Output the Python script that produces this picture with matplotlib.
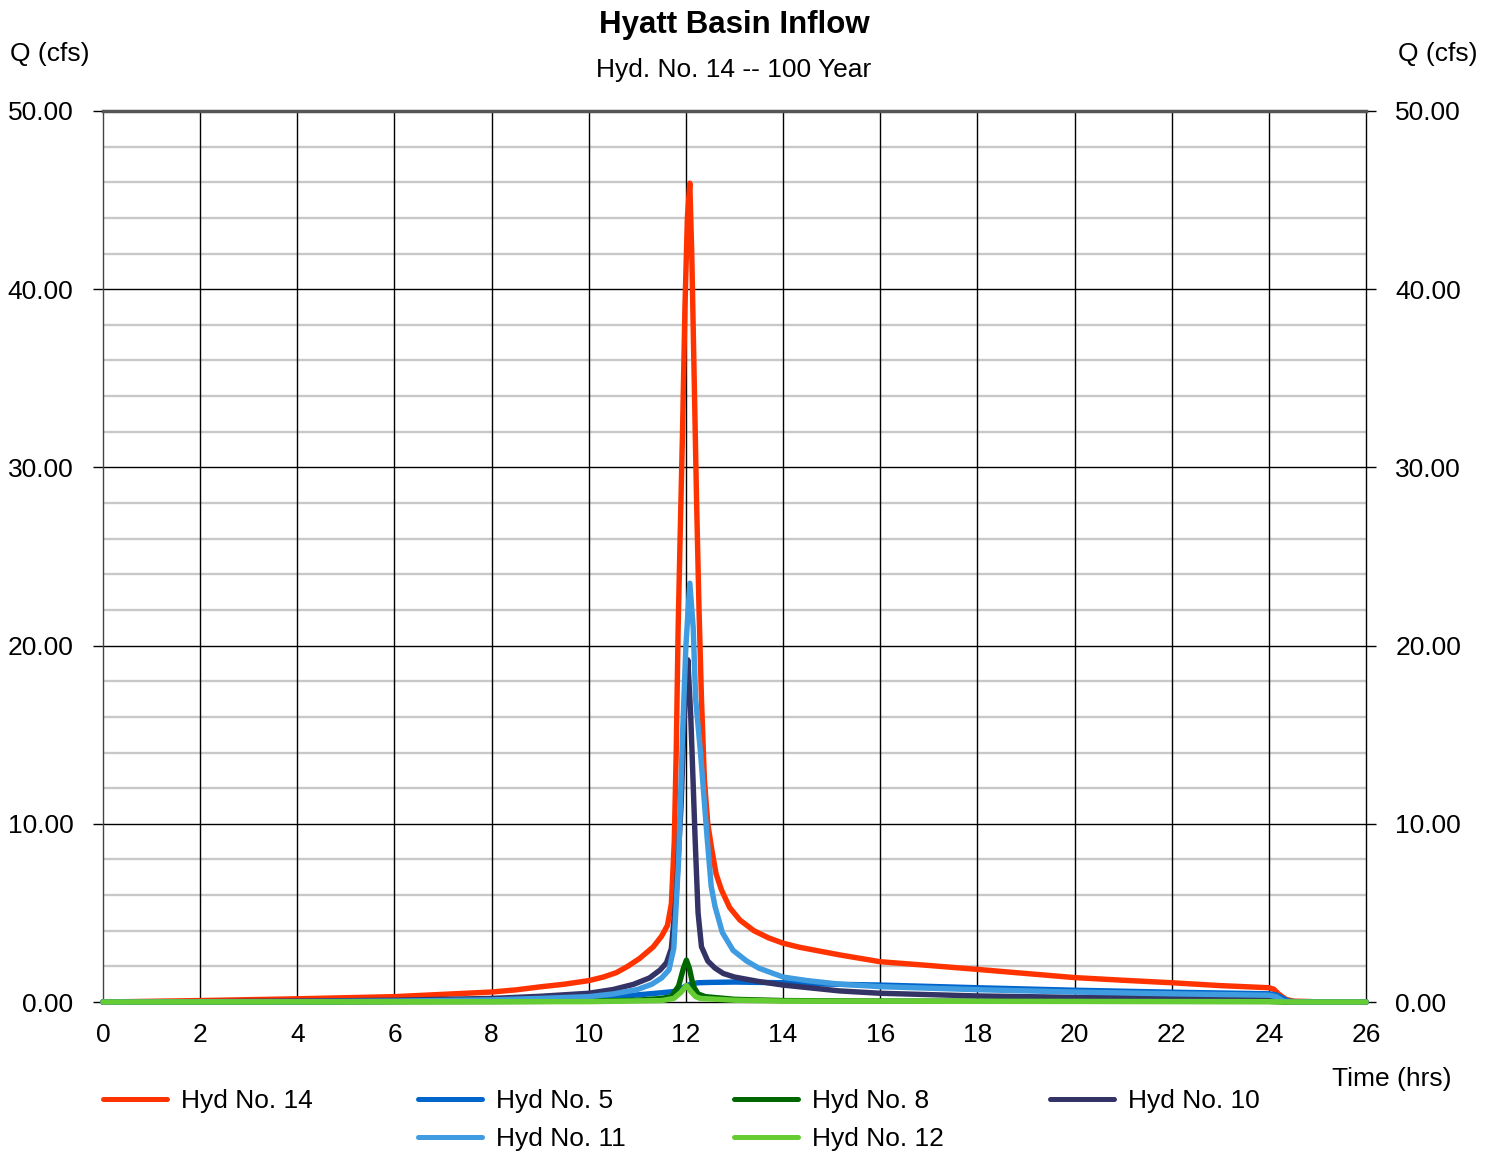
import matplotlib
matplotlib.use("Agg")
import matplotlib.pyplot as plt
from matplotlib.lines import Line2D
import numpy as np

plt.rcParams['font.family'] = ['Liberation Sans', 'DejaVu Sans']

# ---------------- data ----------------
series_names = ["Hyd No. 14", "Hyd No. 5", "Hyd No. 8", "Hyd No. 10", "Hyd No. 11", "Hyd No. 12"]
series_colors = ["#ff3300", "#0066cc", "#006600", "#333366", "#3f9ce0", "#66cc33"]

t14 = [0, 2, 4, 6, 7, 8, 8.5, 9, 9.5, 10, 10.3, 10.57, 10.8, 11.05, 11.33, 11.5, 11.62, 11.7,
       11.76, 11.8, 11.84, 11.88, 11.93, 11.98, 12.03, 12.08, 12.12, 12.17, 12.22, 12.27, 12.32,
       12.38, 12.45, 12.53, 12.62, 12.73, 12.9, 13.11, 13.4, 13.7, 14, 14.34, 15.17, 16, 17, 18,
       19, 20, 21, 22, 23, 24, 24.1, 24.2, 24.35, 24.5, 25, 26]
q14 = [0, 0.08, 0.18, 0.3, 0.43, 0.56, 0.68, 0.85, 1.0, 1.2, 1.4, 1.65, 2.0, 2.45, 3.1, 3.7, 4.3, 5.5,
       9.0, 14.0, 21.0, 26.0, 32.0, 39.0, 44.0, 45.95, 42.0, 35.0, 28.0, 22.0, 17.0,
       12.5, 10.0, 8.6, 7.2, 6.3, 5.3, 4.6, 4.0, 3.6, 3.3, 3.07, 2.64, 2.26, 2.05, 1.83,
       1.6, 1.37, 1.22, 1.08, 0.92, 0.8, 0.72, 0.45, 0.15, 0.05, 0.01, 0]

t5 = [0, 4, 6, 8, 9, 10, 10.5, 11, 11.5, 11.8, 12.0, 12.1, 12.25, 12.5, 13, 14, 15, 16, 18, 20,
      22, 24, 24.15, 24.4, 24.6, 26]
q5 = [0, 0.01, 0.03, 0.08, 0.13, 0.2, 0.28, 0.4, 0.52, 0.6, 0.9, 1.0, 1.08, 1.1, 1.12, 1.08, 1.0,
      0.95, 0.8, 0.66, 0.55, 0.46, 0.4, 0.05, 0, 0]

t8 = [0, 8, 10, 11, 11.5, 11.7, 11.85, 11.95, 12.01, 12.07, 12.15, 12.25, 12.4, 13, 14, 16, 24,
      24.3, 26]
q8 = [0, 0.02, 0.05, 0.1, 0.2, 0.3, 0.9, 1.9, 2.35, 1.9, 0.9, 0.45, 0.3, 0.15, 0.08, 0.05, 0.03,
      0, 0]

t10 = [0, 2, 4, 6, 8, 9, 10, 10.5, 10.92, 11.25, 11.47, 11.6, 11.7, 11.8, 11.9, 11.98, 12.04,
       12.1, 12.19, 12.25, 12.32, 12.45, 12.6, 12.77, 13, 13.5, 14, 15.17, 16, 18, 20, 22, 24,
       24.3, 24.5, 26]
q10 = [0, 0.02, 0.05, 0.1, 0.2, 0.32, 0.49, 0.7, 0.99, 1.35, 1.8, 2.2, 3.0, 6.0, 11.0, 17.0, 19.2,
       16.0, 9.1, 5.0, 3.1, 2.3, 1.9, 1.6, 1.4, 1.15, 0.95, 0.62, 0.49, 0.34, 0.26, 0.22, 0.19,
       0.02, 0, 0]

t11 = [0, 4, 6, 8, 9, 10, 10.5, 11, 11.3, 11.5, 11.65, 11.75, 11.85, 11.93, 12.0, 12.08, 12.15,
       12.2, 12.3, 12.44, 12.52, 12.6, 12.75, 12.97, 13.25, 13.5, 14, 14.5, 15.17, 16, 18, 20, 22,
       24, 24.15, 24.3, 24.5, 26]
q11 = [0, 0.02, 0.05, 0.12, 0.2, 0.3, 0.45, 0.7, 1.0, 1.35, 1.8, 3.0, 8.0, 15.0, 20.0, 23.5, 21.0,
       17.0, 14.0, 9.1, 6.5, 5.35, 3.9, 2.9, 2.3, 1.9, 1.4, 1.2, 1.0, 0.86, 0.69, 0.56, 0.46,
       0.38, 0.3, 0.05, 0, 0]

t12 = [0, 10, 11.5, 11.75, 11.9, 12.01, 12.1, 12.2, 12.3, 13, 14, 24, 24.3, 26]
q12 = [0, 0.02, 0.08, 0.2, 0.55, 0.92, 0.6, 0.3, 0.2, 0.1, 0.05, 0.02, 0, 0]

series_t = [t14, t5, t8, t10, t11, t12]
series_q = [q14, q5, q8, q10, q11, q12]

x_ticks = list(range(0, 27, 2))
y_major = [0, 10, 20, 30, 40, 50]
y_minor = list(range(0, 51, 2))

# ---------------- figure ----------------
W, H = 1494, 1153
fig = plt.figure(figsize=(W / 100, H / 100), dpi=100)
L, R, B, T = 103, 1366, 1002, 111
ax = fig.add_axes([L / W, 1 - B / H, (R - L) / W, (B - T) / H])

ax.set_xlim(0, 26)
ax.set_ylim(0, 50)

# grid
ax.set_yticks(y_minor, minor=True)
ax.set_yticks(y_major)
ax.set_xticks(x_ticks)
ax.set_yticklabels([f"{v:.2f}" for v in y_major])
ax.set_xticklabels([str(v) for v in x_ticks])
for v in y_minor:
    if v % 10 != 0:
        ax.axhline(v, color="#c8c8c8", lw=1.7, zorder=0.5)
for v in y_major[1:-1]:
    ax.axhline(v, color="black", lw=1.0, zorder=0.6)
for v in x_ticks[1:-1]:
    ax.axvline(v, color="black", lw=1.0, zorder=0.6)

for name, color, tt, qq in zip(series_names, series_colors, series_t, series_q):
    ax.plot(tt, qq, color=color, lw=3.9, solid_joinstyle="round", solid_capstyle="round",
            zorder=3, clip_on=False)

for s in ["left", "right", "bottom"]:
    ax.spines[s].set_color("black")
    ax.spines[s].set_linewidth(1.0)
ax.spines["left"].set_color("#444444")
ax.spines["top"].set_color("#555555")
ax.spines["top"].set_linewidth(2.5)

FS = 19
ax.tick_params(axis="y", which="major", direction="out", length=7.2, width=1.0,
               labelsize=FS, pad=14, left=True, right=True, labelleft=True, labelright=True)
ax.tick_params(axis="y", which="minor", length=0)
ax.tick_params(axis="x", which="major", length=0, labelsize=FS, pad=15)

# titles and axis labels
fig.text(734 / W, 1 - 25 / H, "Hyatt Basin Inflow", ha="center", va="center",
         fontsize=22.5, fontweight="bold")
fig.text(734 / W, 1 - 70 / H, "Hyd. No. 14 -- 100 Year", ha="center", va="center", fontsize=FS)
fig.text(10 / W, 1 - 54 / H, "Q (cfs)", ha="left", va="center", fontsize=FS)
fig.text(1477 / W, 1 - 54 / H, "Q (cfs)", ha="right", va="center", fontsize=FS)
fig.text(1451 / W, 1 - 1079 / H, "Time (hrs)", ha="right", va="center", fontsize=FS)

# legend (manual grid: row 1 cols 0-3, row 2 cols 1-2)
col_x = [103, 418, 734, 1050]
row_y = [1099, 1137]
slots = [(0, 0), (0, 1), (0, 2), (0, 3), (1, 1), (1, 2)]
for (r, c), name, color in zip(slots, series_names, series_colors):
    x0 = col_x[c]
    y = 1 - row_y[r] / H
    fig.add_artist(Line2D([x0 / W, (x0 + 64) / W], [y, y], color=color, lw=3.6,
                          solid_capstyle="round", transform=fig.transFigure))
    fig.text((x0 + 78) / W, 1 - (row_y[r] + 2) / H, name, ha="left", va="center", fontsize=FS)

fig.savefig("out.png", dpi=100)
